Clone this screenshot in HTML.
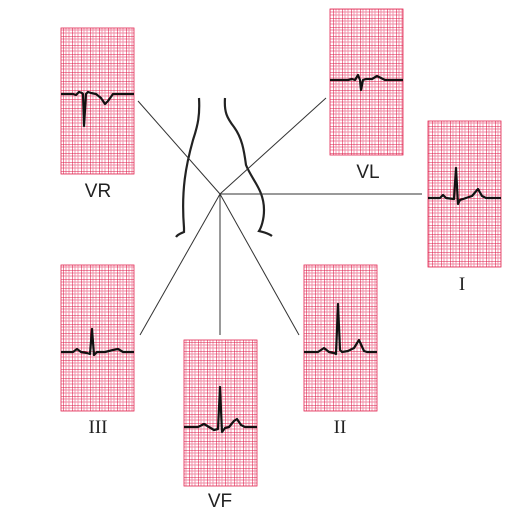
<!DOCTYPE html>
<html><head><meta charset="utf-8"><style>
html,body{margin:0;padding:0;background:#fff}
svg{display:block}
.s{font-family:"Liberation Sans",sans-serif;font-size:19px;fill:#222}
.r{font-family:"Liberation Serif",serif;font-size:19px;fill:#222}
</style></head><body>
<svg width="524" height="520" viewBox="0 0 524 520">
<defs>
<pattern id="g" width="9" height="9" patternUnits="userSpaceOnUse">
<rect width="9" height="9" fill="#fff"/>
<path d="M3 0V9M6 0V9M0 3H9M0 6H9" stroke="#f08aa3" stroke-width="0.9"/>
<path d="M0 0V9M0 0H9" stroke="#dd1a48" stroke-width="1.1"/>
</pattern>
</defs>
<g fill="none" stroke="#222" stroke-width="2.2">
<path d="M199 98 C200 115,198 125,193 140 C186 165,181 190,184 228 L184 232 C182 233,178 234,176 237"/>
<path d="M225 98 C224 112,227 118,234 127 C242 138,244 150,246 165 C252 180,264 190,264 210 C264 220,261 228,259 231 C263 232,268 233,272 236"/>
</g>
<g stroke="#333" stroke-width="1">
<line x1="220" y1="194" x2="138" y2="101"/>
<line x1="220" y1="194" x2="326" y2="98"/>
<line x1="220" y1="194" x2="422" y2="194"/>
<line x1="220" y1="194" x2="140" y2="335"/>
<line x1="220" y1="194" x2="220" y2="335"/>
<line x1="220" y1="194" x2="299" y2="335"/>
</g>
<g id="panels"></g>
</svg>
<script>
const leadNames=["VR","VL","I","III","VF","II"];
const waveVR=[[0,0],[12,0],[15,1],[18,-2],[21,-1],[22,0],[23,32],[25,0],[27,-2],[30,-1],[35,0],[40,4],[44,10],[47,7],[52,0],[73,0]];
const waveVL=[[0,0],[18,0],[22,-1],[25,0],[28,-5],[30,0],[31,10],[33,0],[36,-1],[42,-1],[47,-4],[51,-2],[55,0],[73,0]];
const waveI=[[0,0],[12,0],[15,-3],[18,0],[26,1],[28,-30],[30,6],[32,2],[38,0],[44,-2],[50,-9],[54,-2],[58,0],[73,0]];
const waveIII=[[0,0],[12,0],[16,-3],[20,0],[26,1],[29,2],[31,-23],[33,3],[36,0],[44,0],[52,-2],[57,-3],[62,0],[73,0]];
const waveVF=[[0,0],[14,0],[20,-3],[25,0],[30,3],[34,2],[36,-40],[38,5],[41,1],[45,0],[50,-6],[53,-8],[57,-2],[61,0],[73,0]];
const waveII=[[0,0],[14,0],[20,-4],[25,0],[30,1],[32,2],[34,-48],[36,-2],[38,0],[44,-1],[50,-4],[55,-12],[60,-1],[63,0],[73,0]];
const waves=[waveVR,waveVL,waveI,waveIII,waveVF,waveII];
const layout=[[61,28,94,98,197,"s"],[330,9,80,368,178,"s"],[428,121,198,462,290,"r"],[61,265,352,98,433,"r"],[184,340,427,220,507,"s"],[304,265,352,340,433,"r"]];
const NS="http://www.w3.org/2000/svg";
const root=document.getElementById("panels");
leadNames.forEach((n,i)=>{
  const [x,y,b,lx,ly,cls]=layout[i];
  const g=document.createElementNS(NS,"g");
  
  
  const r=document.createElementNS(NS,"rect");
  r.setAttribute("x",x);r.setAttribute("y",y);r.setAttribute("width",73);r.setAttribute("height",146);
  r.setAttribute("fill","url(#g)");r.setAttribute("stroke","#e2244f");r.setAttribute("stroke-width","0.8");
  
  
  g.appendChild(r);
  const p=document.createElementNS(NS,"path");
  p.setAttribute("d","M"+waves[i].map(v=>(x+v[0])+" "+(b+v[1])).join(" L"));
  p.setAttribute("fill","none");p.setAttribute("stroke","#111");p.setAttribute("stroke-width","2.2");p.setAttribute("stroke-linejoin","round");
  
  
  g.appendChild(p);
  const t=document.createElementNS(NS,"text");
  t.setAttribute("x",lx);t.setAttribute("y",ly);t.setAttribute("text-anchor","middle");t.setAttribute("class",cls);
  t.textContent=n;
  
  
  g.appendChild(t);
  root.appendChild(g);
});
</script>
</body></html>
